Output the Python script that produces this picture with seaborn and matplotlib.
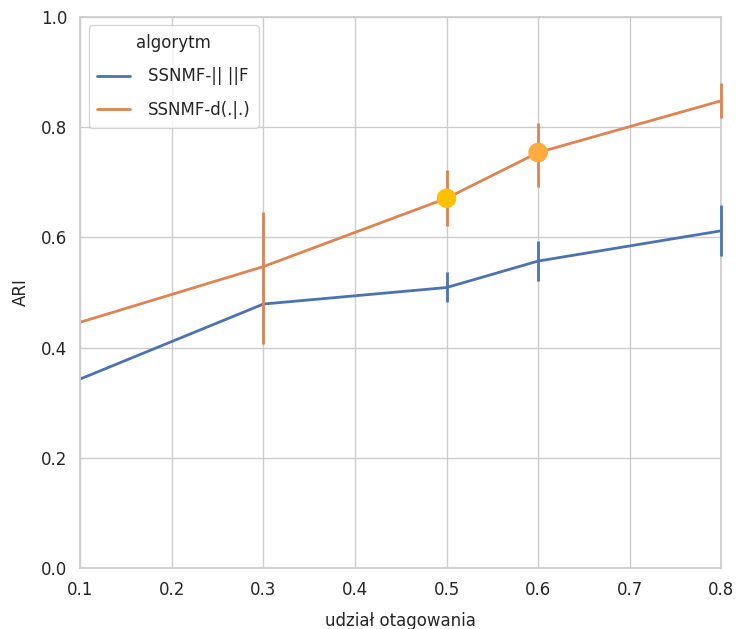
import numpy as np
import pandas as pd
import seaborn as sns
import matplotlib
matplotlib.use("Agg")
import matplotlib.pyplot as plt

x_vals = [0.1, 0.3, 0.5, 0.6, 0.8]
series_names = ["SSNMF-|| ||F", "SSNMF-d(.|.)"]
blue_mean = [0.343, 0.479, 0.509, 0.557, 0.612]
blue_lo = [0.343, 0.479, 0.483, 0.520, 0.567]
blue_hi = [0.343, 0.479, 0.538, 0.594, 0.659]
orange_mean = [0.446, 0.547, 0.671, 0.754, 0.848]
orange_lo = [0.446, 0.407, 0.621, 0.691, 0.816]
orange_hi = [0.446, 0.646, 0.722, 0.808, 0.881]
highlight_x = [0.5, 0.6]
highlight_y = [0.671, 0.754]
highlight_colors = ["#FFC000", "#FFAB40"]

sns.set_theme(style="whitegrid")
df = pd.DataFrame({
    "udział otagowania": x_vals * 2,
    "ARI": blue_mean + orange_mean,
    "algorytm": [series_names[0]] * 5 + [series_names[1]] * 5,
})

fig = plt.figure(figsize=(7.36, 6.29), dpi=100)
ax = fig.add_axes([0.109, 0.097, 0.871, 0.876])
pal = sns.color_palette("deep")
sns.lineplot(data=df, x="udział otagowania", y="ARI", hue="algorytm",
             palette=[pal[0], pal[1]], ax=ax, linewidth=2)
ax.vlines(x_vals, blue_lo, blue_hi, color=pal[0], linewidth=2, clip_on=False, zorder=4)
ax.vlines(x_vals, orange_lo, orange_hi, color=pal[1], linewidth=2, clip_on=False, zorder=4)
ax.scatter(highlight_x, highlight_y, c=highlight_colors, s=200, zorder=5, linewidths=0)
ax.set_xlim(0.1, 0.8)
ax.set_ylim(0.0, 1.0)
ax.tick_params(labelsize=12)
ax.set_xlabel("udział otagowania", fontsize=12, labelpad=9)
ax.set_ylabel("ARI", fontsize=12, labelpad=8)
leg = ax.legend(title="algorytm", loc="upper left", fontsize=12, title_fontsize=12,
                labelspacing=0.95, handletextpad=1.05, borderpad=0.5,
                bbox_to_anchor=(0.0, 1.0))
fig.savefig("out.png", dpi=100)
